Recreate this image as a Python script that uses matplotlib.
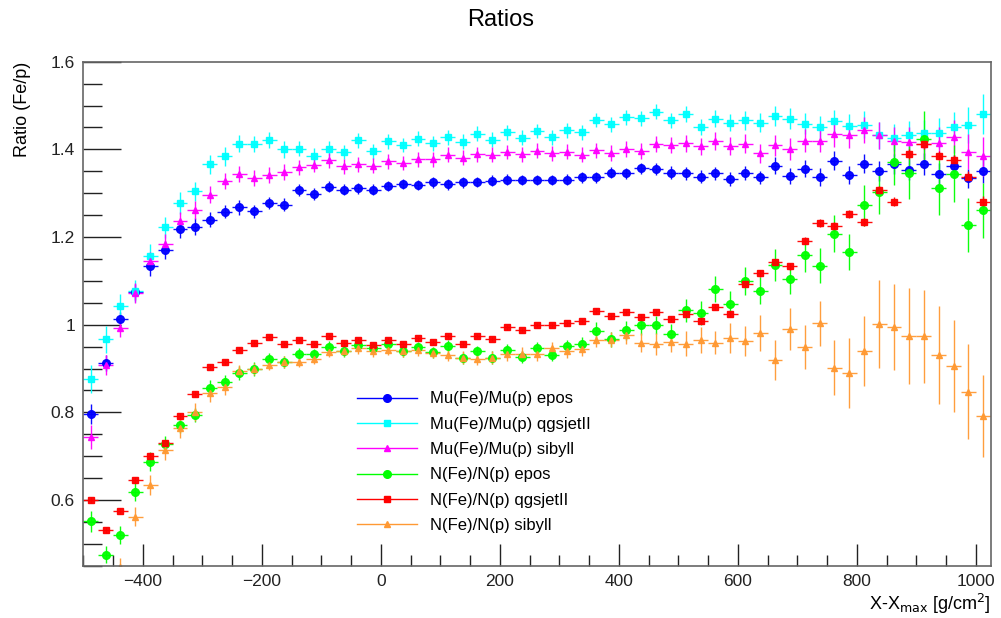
import matplotlib.pyplot as plt
import numpy as np
from matplotlib.lines import Line2D
from matplotlib.ticker import MultipleLocator, FormatStrFormatter

plt.rcParams['font.family'] = ['Liberation Sans', 'DejaVu Sans']

# bin centres, 25 g/cm2 wide bins
x = np.arange(-487.5, 1013, 25)
xerr = 12.5

mu_epos = [0.796, 0.912, 1.013, 1.075, 1.133, 1.170, 1.218, 1.224, 1.240, 1.258,
           1.268, 1.259, 1.277, 1.274, 1.307, 1.298, 1.315, 1.308, 1.311, 1.308,
           1.317, 1.321, 1.319, 1.325, 1.320, 1.325, 1.326, 1.329, 1.331, 1.330,
           1.330, 1.330, 1.331, 1.336, 1.336, 1.347, 1.345, 1.357, 1.355, 1.347,
           1.345, 1.338, 1.345, 1.332, 1.347, 1.336, 1.363, 1.340, 1.356, 1.337,
           1.374, 1.342, 1.367, 1.350, 1.366, 1.354, 1.366, 1.344, 1.362, 1.334,
           1.350]
mu_epos_err = [0.022, 0.018, 0.015, 0.018, 0.021, 0.021, 0.021, 0.019, 0.018, 0.015,
               0.017, 0.015, 0.014, 0.014, 0.013, 0.014, 0.013, 0.012, 0.012, 0.012,
               0.012, 0.012, 0.012, 0.012, 0.012, 0.012, 0.012, 0.012, 0.012, 0.012,
               0.012, 0.012, 0.013, 0.013, 0.013, 0.013, 0.013, 0.013, 0.014, 0.014,
               0.014, 0.015, 0.015, 0.016, 0.016, 0.015, 0.019, 0.018, 0.019, 0.021,
               0.022, 0.021, 0.022, 0.023, 0.023, 0.024, 0.025, 0.024, 0.025, 0.021,
               0.027]

mu_qgsjet = [0.877, 0.967, 1.042, 1.076, 1.157, 1.222, 1.278, 1.304, 1.366, 1.384,
             1.413, 1.412, 1.421, 1.400, 1.402, 1.385, 1.402, 1.394, 1.421, 1.396,
             1.418, 1.410, 1.424, 1.414, 1.428, 1.417, 1.436, 1.422, 1.439, 1.427,
             1.442, 1.428, 1.444, 1.439, 1.467, 1.457, 1.473, 1.471, 1.486, 1.466,
             1.480, 1.451, 1.470, 1.461, 1.466, 1.461, 1.477, 1.470, 1.459, 1.452,
             1.464, 1.454, 1.456, 1.432, 1.427, 1.432, 1.438, 1.437, 1.451, 1.456,
             1.481]
mu_qgsjet_err = [0.032, 0.031, 0.028, 0.025, 0.026, 0.024, 0.025, 0.022, 0.022, 0.021,
                 0.020, 0.019, 0.018, 0.019, 0.018, 0.018, 0.017, 0.017, 0.017, 0.017,
                 0.017, 0.017, 0.017, 0.017, 0.017, 0.017, 0.017, 0.017, 0.017, 0.017,
                 0.017, 0.017, 0.017, 0.017, 0.017, 0.017, 0.017, 0.017, 0.017, 0.018,
                 0.018, 0.018, 0.019, 0.020, 0.021, 0.022, 0.023, 0.024, 0.024, 0.025,
                 0.027, 0.027, 0.031, 0.031, 0.030, 0.032, 0.030, 0.034, 0.034, 0.041,
                 0.046]

mu_sibyll = [0.744, 0.908, 0.993, 1.072, 1.145, 1.185, 1.236, 1.262, 1.297, 1.328,
             1.344, 1.334, 1.341, 1.349, 1.359, 1.365, 1.375, 1.361, 1.366, 1.363,
             1.373, 1.369, 1.377, 1.377, 1.388, 1.381, 1.389, 1.388, 1.394, 1.389,
             1.397, 1.391, 1.395, 1.388, 1.398, 1.391, 1.400, 1.397, 1.413, 1.410,
             1.414, 1.407, 1.419, 1.408, 1.413, 1.391, 1.409, 1.400, 1.420, 1.420,
             1.434, 1.432, 1.445, 1.432, 1.420, 1.416, 1.413, 1.415, 1.429, 1.395,
             1.384]
mu_sibyll_err = [0.027, 0.023, 0.022, 0.022, 0.021, 0.021, 0.020, 0.020, 0.019, 0.019,
                 0.018, 0.018, 0.018, 0.018, 0.017, 0.017, 0.017, 0.017, 0.017, 0.017,
                 0.017, 0.017, 0.017, 0.017, 0.017, 0.017, 0.017, 0.017, 0.017, 0.017,
                 0.017, 0.017, 0.017, 0.017, 0.017, 0.018, 0.018, 0.018, 0.018, 0.019,
                 0.019, 0.020, 0.020, 0.021, 0.022, 0.022, 0.024, 0.025, 0.026, 0.027,
                 0.028, 0.029, 0.030, 0.031, 0.032, 0.035, 0.034, 0.036, 0.037, 0.040,
                 0.045]

n_epos = [0.551, 0.475, 0.520, 0.619, 0.687, 0.728, 0.770, 0.794, 0.856, 0.870,
          0.890, 0.899, 0.922, 0.915, 0.933, 0.932, 0.949, 0.940, 0.954, 0.946,
          0.956, 0.940, 0.948, 0.937, 0.951, 0.924, 0.939, 0.925, 0.943, 0.927,
          0.946, 0.931, 0.951, 0.957, 0.986, 0.967, 0.987, 0.999, 0.999, 0.978,
          1.033, 1.027, 1.082, 1.047, 1.100, 1.078, 1.136, 1.104, 1.158, 1.134,
          1.208, 1.166, 1.272, 1.303, 1.372, 1.347, 1.423, 1.313, 1.344, 1.227,
          1.261]
n_epos_err = [0.024, 0.019, 0.021, 0.022, 0.022, 0.018, 0.017, 0.017, 0.017, 0.016,
              0.016, 0.015, 0.014, 0.014, 0.013, 0.013, 0.013, 0.013, 0.013, 0.013,
              0.013, 0.013, 0.013, 0.013, 0.013, 0.013, 0.013, 0.014, 0.014, 0.014,
              0.014, 0.015, 0.015, 0.015, 0.021, 0.017, 0.022, 0.023, 0.021, 0.023,
              0.026, 0.028, 0.030, 0.029, 0.032, 0.031, 0.036, 0.034, 0.038, 0.040,
              0.042, 0.041, 0.046, 0.051, 0.053, 0.061, 0.065, 0.062, 0.065, 0.061,
              0.063]

n_qgsjet = [0.600, 0.532, 0.574, 0.646, 0.700, 0.731, 0.792, 0.842, 0.904, 0.915,
            0.943, 0.959, 0.971, 0.956, 0.965, 0.956, 0.974, 0.959, 0.964, 0.953,
            0.964, 0.955, 0.969, 0.961, 0.974, 0.957, 0.974, 0.967, 0.994, 0.988,
            0.999, 0.999, 1.003, 1.008, 1.031, 1.019, 1.028, 1.018, 1.028, 1.014,
            1.025, 1.008, 1.041, 1.025, 1.092, 1.117, 1.143, 1.133, 1.192, 1.233,
            1.225, 1.252, 1.234, 1.307, 1.281, 1.390, 1.412, 1.386, 1.375, 1.338,
            1.281]
n_qgsjet_err = [0.007, 0.007, 0.007, 0.007, 0.007, 0.006, 0.006, 0.006, 0.006, 0.006,
                0.005, 0.005, 0.005, 0.005, 0.005, 0.005, 0.005, 0.005, 0.005, 0.005,
                0.005, 0.005, 0.005, 0.005, 0.005, 0.005, 0.005, 0.005, 0.005, 0.005,
                0.005, 0.005, 0.005, 0.005, 0.006, 0.006, 0.006, 0.006, 0.006, 0.006,
                0.006, 0.007, 0.007, 0.007, 0.007, 0.008, 0.008, 0.008, 0.008, 0.009,
                0.009, 0.009, 0.009, 0.010, 0.010, 0.011, 0.011, 0.011, 0.012, 0.012,
                0.012]

n_sibyll = [0.380, 0.410, 0.448, 0.562, 0.634, 0.714, 0.764, 0.801, 0.843, 0.857,
            0.895, 0.899, 0.909, 0.915, 0.915, 0.922, 0.938, 0.940, 0.946, 0.940,
            0.943, 0.940, 0.942, 0.936, 0.931, 0.925, 0.921, 0.925, 0.933, 0.934,
            0.933, 0.946, 0.940, 0.944, 0.965, 0.966, 0.976, 0.959, 0.956, 0.961,
            0.957, 0.965, 0.959, 0.969, 0.962, 0.981, 0.919, 0.990, 0.949, 1.003,
            0.902, 0.890, 0.940, 1.002, 0.994, 0.974, 0.974, 0.931, 0.906, 0.847,
            0.792]
n_sibyll_err = [0.020, 0.020, 0.020, 0.022, 0.023, 0.023, 0.023, 0.020, 0.019, 0.017,
                0.014, 0.014, 0.013, 0.013, 0.012, 0.012, 0.012, 0.012, 0.012, 0.013,
                0.013, 0.013, 0.013, 0.013, 0.014, 0.014, 0.014, 0.014, 0.015, 0.015,
                0.015, 0.015, 0.015, 0.015, 0.015, 0.018, 0.020, 0.021, 0.025, 0.023,
                0.028, 0.030, 0.027, 0.034, 0.034, 0.040, 0.046, 0.047, 0.051, 0.052,
                0.062, 0.079, 0.080, 0.100, 0.098, 0.109, 0.106, 0.111, 0.105, 0.108,
                0.093]

series = [
    (mu_epos, mu_epos_err, 'Mu(Fe)/Mu(p) epos', '#0000ff', 'o', 5.5),
    (mu_qgsjet, mu_qgsjet_err, 'Mu(Fe)/Mu(p) qgsjetII', '#00ffff', 's', 5.0),
    (mu_sibyll, mu_sibyll_err, 'Mu(Fe)/Mu(p) sibyll', '#ff00ff', '^', 4.0),
    (n_epos, n_epos_err, 'N(Fe)/N(p) epos', '#00ff00', 'o', 5.5),
    (n_qgsjet, n_qgsjet_err, 'N(Fe)/N(p) qgsjetII', '#ff0000', 's', 5.0),
    (n_sibyll, n_sibyll_err, 'N(Fe)/N(p) sibyll', '#ff9933', '^', 4.0),
]

fig = plt.figure(figsize=(10.01, 6.18), dpi=100)
ax = fig.add_axes([0.0832, 0.0846, 0.9065, 0.8155])

handles = []
for y, yerr, label, color, marker, ms in series:
    ax.errorbar(x, y, yerr=yerr, xerr=xerr, fmt=marker, color=color, ms=ms,
                mec=color, elinewidth=1.0, capsize=0, alpha=0.95)
    handles.append(Line2D([], [], color=color, marker=marker, ms=ms, lw=1.0, label=label))

ax.set_xlim(-500, 1025)
ax.set_ylim(0.45, 1.6)
ax.set_xticks(np.arange(-400, 1001, 200))
ax.xaxis.set_minor_locator(MultipleLocator(50))
ax.yaxis.set_major_locator(MultipleLocator(0.2))
ax.yaxis.set_minor_locator(MultipleLocator(0.05))
ax.yaxis.set_major_formatter(FormatStrFormatter('%g'))

ax.tick_params(axis='both', which='both', direction='in', top=False, right=False,
               labelsize=12.5, colors='#222222', width=1)
ax.tick_params(axis='y', which='major', length=27, pad=6)
ax.tick_params(axis='y', which='minor', length=14)
ax.tick_params(axis='x', which='major', length=16, pad=6)
ax.tick_params(axis='x', which='minor', length=8)
for sp in ax.spines.values():
    sp.set_color('#666666')
    sp.set_linewidth(1.2)

ax.set_xlabel('X-X$_{\\mathrm{max}}$ [g/cm$^{2}$]', loc='right', fontsize=13, labelpad=2)
ax.set_ylabel('Ratio (Fe/p)', loc='top', fontsize=13, labelpad=14)
fig.text(0.5, 0.968, 'Ratios', ha='center', va='center', fontsize=17)

ax.legend(handles=handles, loc='upper left', bbox_to_anchor=(0.302, 0.346),
          frameon=False, fontsize=12, handlelength=3.6, handletextpad=0.75,
          labelspacing=0.62, borderpad=0, borderaxespad=0)

plt.savefig('out.png', dpi=100)
